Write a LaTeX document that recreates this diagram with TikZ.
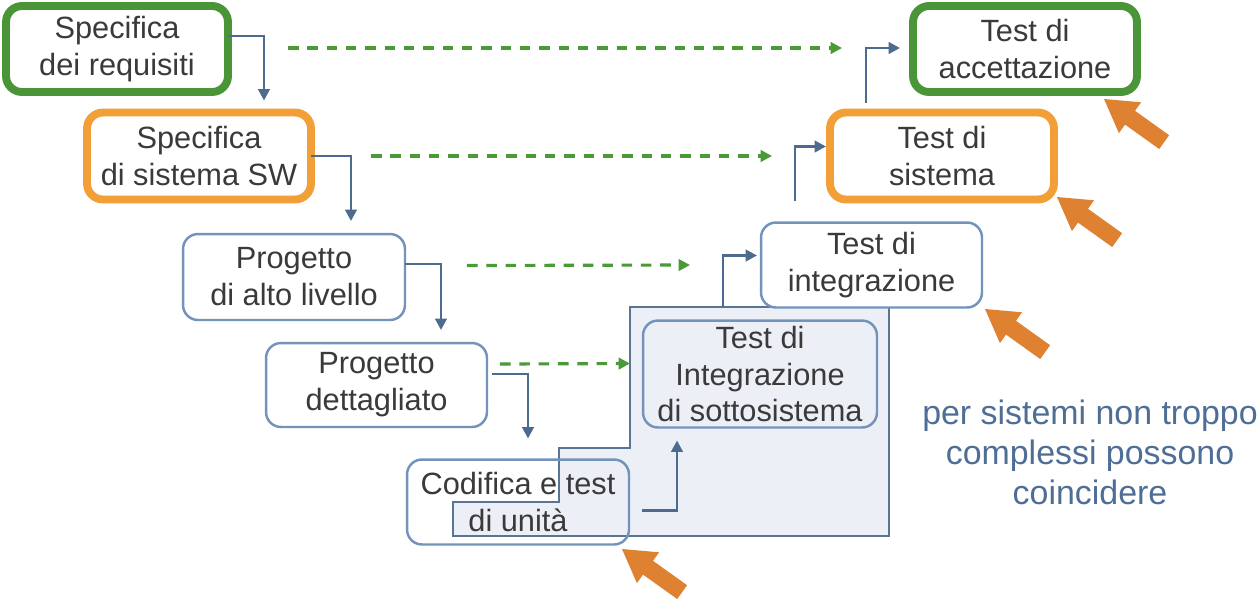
\documentclass[tikz,border=0pt]{standalone}
\usepackage{fontspec}
\setmainfont{Liberation Sans}
\usetikzlibrary{arrows.meta}
\definecolor{grn}{HTML}{4A9538}
\definecolor{org}{HTML}{F29F38}
\definecolor{nbl}{HTML}{7393BB}
\definecolor{cbl}{HTML}{4D6B8E}
\definecolor{pbl}{HTML}{5A7495}
\definecolor{txt}{HTML}{3A3A3A}
\definecolor{pfill}{HTML}{ECEFF5}
\definecolor{parr}{HTML}{DE8232}
\definecolor{rtxt}{HTML}{4F6E96}
\definecolor{dgrn}{HTML}{4A9A38}
\begin{document}
\begin{tikzpicture}[x=0.02cm,y=-0.02cm,
 box/.style={draw=nbl, line width=1.4pt, rounded corners=0.3cm, fill=white, outer sep=0pt, inner sep=0pt, align=center, text=txt, font=\fontsize{17.5}{21}\selectfont},
 greenbox/.style={box, draw=grn, line width=4.5pt, rounded corners=0.32cm},
 orangebox/.style={box, draw=org, line width=4.5pt, rounded corners=0.32cm},
 conn/.style={draw=cbl, line width=1.6pt, -{Triangle[length=6.5pt,width=6.5pt]}},
 dashconn/.style={draw=dgrn, line width=1.8pt, dash pattern=on 6pt off 5pt, -{Triangle[length=6.5pt,width=6.5pt]}},
 orarrow/.pic={\fill[parr] (0,0)--(37.1,3.3)--(31.0,11.8)--(65.1,36.2)--(55.2,50.0)--(21.0,25.6)--(14.9,34.1)--cycle;}
]
\useasboundingbox[fill=white] (0,0) rectangle (1260,600);

% grouping polygon
\draw[draw=pbl, line width=1.3pt, fill=pfill] (630,307) -- (889,307) -- (889,536) -- (453,536) -- (453,502) -- (559,502) -- (559,448) -- (630,448) -- cycle;
\coordinate (ptop) at (723,307);

% left side
\node[greenbox, minimum width=4.44cm, minimum height=1.72cm] (b1) at (117,49) {Specifica\\dei requisiti};
\node[orangebox, minimum width=4.48cm, minimum height=1.74cm] (b2) at (199,156) {Specifica\\di sistema SW};
\node[box, minimum width=4.44cm, minimum height=1.72cm] (b3) at (294,277) {Progetto\\di alto livello};
\node[box, minimum width=4.42cm, minimum height=1.68cm] (b4) at (376.5,385) {Progetto\\dettagliato};
\node[box, fill=none, minimum width=4.44cm, minimum height=1.70cm] (b5) at (518,502) {Codifica e test\\di unità};

% right side
\node[box, fill=pfill, minimum width=4.68cm, minimum height=2.14cm] (b6) at (760,374) {Test di\\Integrazione\\di sottosistema};
\node[box, minimum width=4.42cm, minimum height=1.70cm] (b7) at (871.5,265) {Test di\\integrazione};
\node[orangebox, minimum width=4.48cm, minimum height=1.74cm] (b8) at (942,156) {Test di\\sistema};
\node[greenbox, minimum width=4.48cm, minimum height=1.72cm] (b9) at (1025,49) {Test di\\accettazione};

% descending connectors
\draw[conn] ([yshift=0.26cm]b1.east) -| ([xshift=1.3cm,yshift=0.24cm]b2.north);
\draw[conn] (b2.east) -| ([xshift=1.14cm,yshift=0.26cm]b3.north);
\draw[conn] ([yshift=0.26cm]b3.east) -| ([xshift=1.29cm,yshift=0.26cm]b4.north);
\draw[conn] ([xshift=0.1cm,yshift=0.22cm]b4.east) -| ([xshift=0.2cm,yshift=0.42cm]b5.north);

% ascending connectors
\draw[conn] ([xshift=0.26cm,yshift=-0.17cm]b5.east) -| ([xshift=-1.66cm,yshift=-0.26cm]b6.south);
\draw[conn] (ptop) |- ([xshift=-0.08cm,yshift=0.19cm]b7.west);
\draw[conn] ([xshift=-1.53cm,yshift=0.44cm]b7.north) |- ([xshift=-0.08cm,yshift=0.19cm]b8.west);
\draw[conn] ([xshift=-1.52cm,yshift=0.2cm]b8.north) |- ([xshift=-0.26cm,yshift=0.02cm]b9.west);

% dashed correspondences
\draw[dashconn] ([xshift=1.2cm,yshift=0.02cm]b1.east) -- ([xshift=-1.42cm,yshift=0.02cm]b9.west);
\draw[dashconn] ([xshift=1.2cm]b2.east) -- ([xshift=-1.16cm]b8.west);
\draw[dashconn] ([xshift=1.24cm,yshift=0.23cm]b3.east) -- ([xshift=-1.42cm]b7.west);
\draw[dashconn] ([xshift=0.26cm,yshift=0.42cm]b4.east) -- ([xshift=-0.26cm,yshift=0.21cm]b6.west);

% orange pointer arrows
\pic at (1104,99) {orarrow};
\pic at (1057,197) {orarrow};
\pic at (985,309) {orarrow};
\pic at (622,549) {orarrow};

% note
\node[align=center, text=rtxt, font=\fontsize{19.3}{22.7}\selectfont] (note) at (1090,452) {per sistemi non troppo\\complessi possono\\coincidere};
\end{tikzpicture}
\end{document}
